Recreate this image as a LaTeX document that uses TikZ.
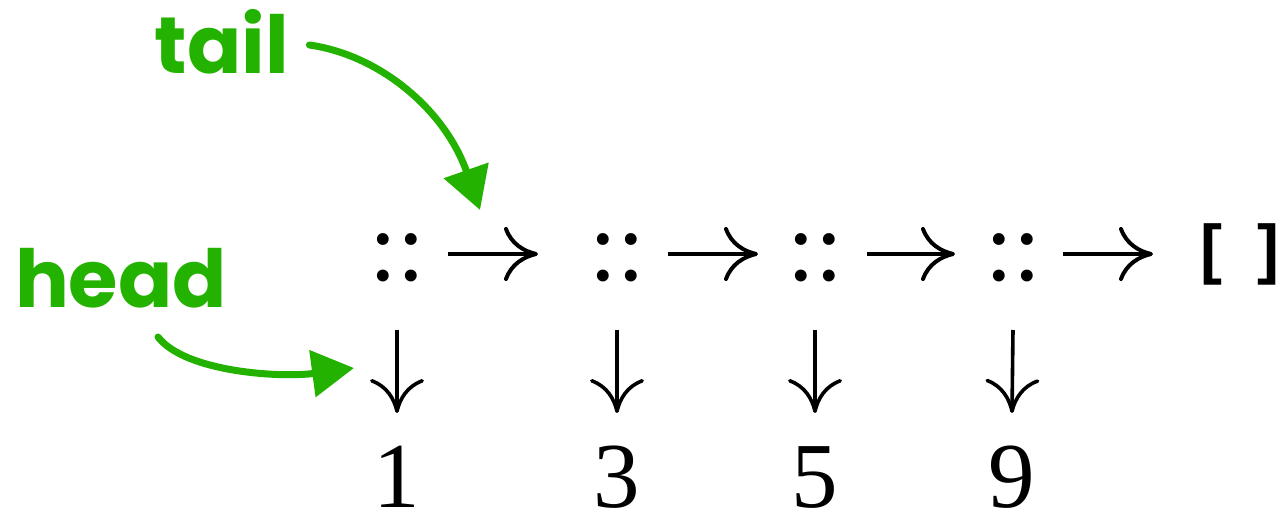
\documentclass[tikz,border=0pt]{standalone}
\usepackage{fontspec}
\setmainfont{Liberation Serif}
\newfontfamily\handfont{Poppins}
\newfontfamily\brfont{Liberation Sans}
\usetikzlibrary{arrows.meta,calc}
\definecolor{chalk}{RGB}{36,178,0}
\begin{document}
\begin{tikzpicture}[x=0.5pt,y=-0.5pt,
  cons/.style={inner sep=0pt,anchor=base,font=\fontsize{50}{50}\selectfont},
  num/.style={inner sep=0pt,anchor=base,font=\fontsize{46.5}{50}\selectfont},
  nil/.style={inner sep=0pt,anchor=base,font=\brfont\bfseries\fontsize{33}{40}\selectfont,
    execute at begin node={\spaceskip=0.52em\relax}},
  hand/.style={inner sep=0pt,anchor=base,text=chalk,font=\handfont\bfseries\fontsize{40}{44}\selectfont},
  rarr/.style={line width=2pt,-{Computer Modern Rightarrow[length=17pt,width=27pt]}},
  darr/.style={line width=1.8pt,-{Computer Modern Rightarrow[length=17pt,width=27pt]}},
  garr/.style={chalk,line width=3.5pt,line cap=round,-{Triangle[length=21pt,width=23pt]}}]
\useasboundingbox (0,0) rectangle (1282,513);
% cons cells
\node[cons] (c1) at (397,281) {::};
\node[cons] (c2) at (617,281) {::};
\node[cons] (c3) at (815,281) {::};
\node[cons] (c4) at (1013,281) {::};
\node[nil] (e) at (1240,272) {[ ]};
% values
\node[num] (n1) at (397,508) {1};
\node[num] (n2) at (617,508) {3};
\node[num] (n3) at (815,508) {5};
\node[num] (n4) at (1012,508) {9};
% next pointers
\draw[rarr] ($(c1.base)+(51,-27)$) -- ($(c2.base)+(-79,-27)$);
\draw[rarr] ($(c2.base)+(51,-27)$) -- ($(c3.base)+(-57,-27)$);
\draw[rarr] ($(c3.base)+(52,-27)$) -- ($(c4.base)+(-58,-27)$);
\draw[rarr] ($(c4.base)+(50,-27)$) -- ($(e.base)+(-87,-18)$);
% value pointers
\foreach \i in {1,2,3,4}
  \draw[darr] ($(c\i.base)+(0,49)$) -- ($(n\i.base)+(0,-95)$);
% annotations
\node[hand] (tail) at (222,74) {tail};
\node[hand] (head) at (121,308) {head};
\coordinate (tailtip) at (480,210);
\coordinate (headtip) at (354,368);
\draw[garr] ($(tail.base east)+(20,-29)$) .. controls (380,55) and (445,110) .. (tailtip);
\draw[garr] ($(head.base)+(37,29)$) .. controls (185,372) and (280,378) .. (headtip);
\end{tikzpicture}
\end{document}
